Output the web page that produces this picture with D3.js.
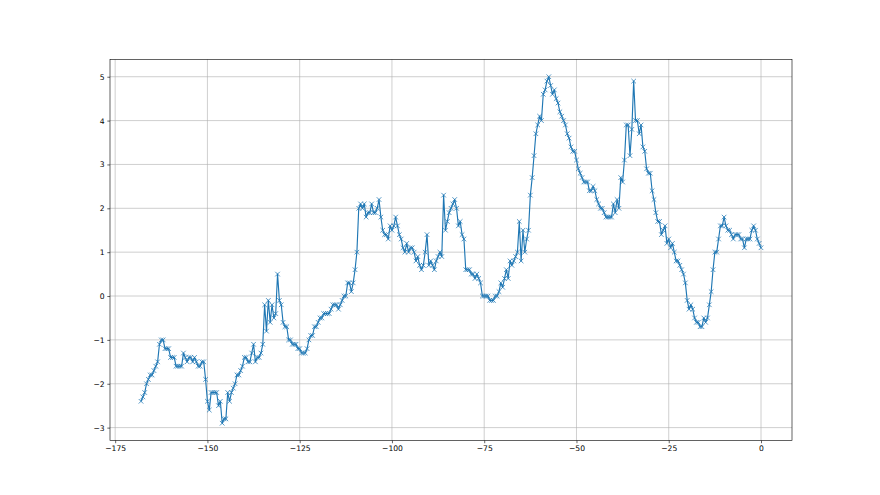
<!DOCTYPE html>
<html>
<head>
<meta charset="utf-8">
<script src="https://cdn.jsdelivr.net/npm/d3@7"></script>
<style>
  body { margin: 0; background: #fff; }
  svg { display: block; }
  .tick text { font-family: "DejaVu Sans", sans-serif; font-size: 7.6px; fill: #000; }
</style>
</head>
<body>
<div id="chart"></div>
<script>
var xValues = [
  -168, -167.5, -167, -166.5, -166, -165.5, -165, -164.5, -164, -163.5,
  -163, -162.5, -162, -161.5, -161, -160.5, -160, -159.5, -159, -158.5,
  -158, -157.5, -157, -156.5, -156, -155.5, -155, -154.5, -154, -153.5,
  -153, -152.5, -152, -151.5, -151, -150.5, -150, -149.5, -149, -148.5,
  -148, -147.5, -147, -146.5, -146, -145.5, -145, -144.5, -144, -143.5,
  -143, -142.5, -142, -141.5, -141, -140.5, -140, -139.5, -139, -138.5,
  -138, -137.5, -137, -136.5, -136, -135.5, -135, -134.5, -134, -133.5,
  -133, -132.5, -132, -131.5, -131, -130.5, -130, -129.5, -129, -128.5,
  -128, -127.5, -127, -126.5, -126, -125.5, -125, -124.5, -124, -123.5,
  -123, -122.5, -122, -121.5, -121, -120.5, -120, -119.5, -119, -118.5,
  -118, -117.5, -117, -116.5, -116, -115.5, -115, -114.5, -114, -113.5,
  -113, -112.5, -112, -111.5, -111, -110.5, -110, -109.5, -109, -108.5,
  -108, -107.5, -107, -106.5, -106, -105.5, -105, -104.5, -104, -103.5,
  -103, -102.5, -102, -101.5, -101, -100.5, -100, -99.5, -99, -98.5,
  -98, -97.5, -97, -96.5, -96, -95.5, -95, -94.5, -94, -93.5,
  -93, -92.5, -92, -91.5, -91, -90.5, -90, -89.5, -89, -88.5,
  -88, -87.5, -87, -86.5, -86, -85.5, -85, -84.5, -84, -83.5,
  -83, -82.5, -82, -81.5, -81, -80.5, -80, -79.5, -79, -78.5,
  -78, -77.5, -77, -76.5, -76, -75.5, -75, -74.5, -74, -73.5,
  -73, -72.5, -72, -71.5, -71, -70.5, -70, -69.5, -69, -68.5,
  -68, -67.5, -67, -66.5, -66, -65.5, -65, -64.5, -64, -63.5,
  -63, -62.5, -62, -61.5, -61, -60.5, -60, -59.5, -59, -58.5,
  -58, -57.5, -57, -56.5, -56, -55.5, -55, -54.5, -54, -53.5,
  -53, -52.5, -52, -51.5, -51, -50.5, -50, -49.5, -49, -48.5,
  -48, -47.5, -47, -46.5, -46, -45.5, -45, -44.5, -44, -43.5,
  -43, -42.5, -42, -41.5, -41, -40.5, -40, -39.5, -39, -38.5,
  -38, -37.5, -37, -36.5, -36, -35.5, -35, -34.5, -34, -33.5,
  -33, -32.5, -32, -31.5, -31, -30.5, -30, -29.5, -29, -28.5,
  -28, -27.5, -27, -26.5, -26, -25.5, -25, -24.5, -24, -23.5,
  -23, -22.5, -22, -21.5, -21, -20.5, -20, -19.5, -19, -18.5,
  -18, -17.5, -17, -16.5, -16, -15.5, -15, -14.5, -14, -13.5,
  -13, -12.5, -12, -11.5, -11, -10.5, -10, -9.5, -9, -8.5,
  -8, -7.5, -7, -6.5, -6, -5.5, -5, -4.5, -4, -3.5,
  -3, -2.5, -2, -1.5, -1, -0.5, 0
];

var yValues = [
  -2.4, -2.3, -2.2, -2.0, -1.9, -1.8, -1.8, -1.7, -1.6, -1.5,
  -1.1, -1.0, -1.0, -1.2, -1.2, -1.2, -1.4, -1.4, -1.4, -1.6,
  -1.6, -1.6, -1.6, -1.3, -1.4, -1.5, -1.4, -1.4, -1.5, -1.4,
  -1.5, -1.6, -1.6, -1.5, -1.5, -1.9, -2.4, -2.6, -2.2, -2.2,
  -2.2, -2.2, -2.5, -2.4, -2.9, -2.8, -2.8, -2.2, -2.4, -2.2,
  -2.1, -2.0, -1.8, -1.8, -1.7, -1.6, -1.4, -1.4, -1.5, -1.5,
  -1.3, -1.1, -1.5, -1.4, -1.4, -1.3, -1.1, -0.2, -0.8, -0.1,
  -0.6, -0.2, -0.5, -0.4, 0.5, -0.1, -0.2, -0.6, -0.7, -0.7,
  -1.0, -1.0, -1.1, -1.1, -1.1, -1.2, -1.2, -1.3, -1.3, -1.3,
  -1.2, -1.0, -0.9, -0.9, -0.7, -0.7, -0.6, -0.5, -0.5, -0.4,
  -0.4, -0.4, -0.4, -0.3, -0.2, -0.2, -0.2, -0.3, -0.2, -0.1,
  0.0, 0.0, 0.3, 0.3, 0.1, 0.3, 0.6, 1.0, 2.0, 2.1,
  2.0, 2.1, 1.8, 1.9, 1.9, 2.1, 1.9, 1.9, 2.0, 2.2,
  1.8, 1.5, 1.4, 1.4, 1.3, 1.6, 1.5, 1.6, 1.8, 1.6,
  1.4, 1.3, 1.1, 1.0, 1.2, 1.0, 1.1, 1.1, 1.0, 0.8,
  0.9, 0.7, 0.6, 0.7, 1.0, 1.4, 0.7, 0.8, 0.7, 0.6,
  0.8, 0.9, 1.0, 0.9, 2.3, 1.5, 1.7, 1.9, 2.0, 2.1,
  2.2, 2.0, 1.6, 1.7, 1.4, 1.3, 0.6, 0.6, 0.6, 0.5,
  0.5, 0.4, 0.5, 0.4, 0.3, 0.0, 0.0, 0.0, 0.0, -0.1,
  -0.1, -0.1, 0.0, 0.0, 0.1, 0.3, 0.2, 0.4, 0.6, 0.4,
  0.8, 0.7, 0.8, 0.9, 1.0, 1.7, 0.8, 1.5, 1.0, 1.3,
  1.5, 2.3, 2.7, 3.2, 3.7, 3.9, 4.1, 4.0, 4.6, 4.7,
  4.9, 5.0, 4.8, 4.6, 4.7, 4.5, 4.4, 4.2, 4.1, 4.0,
  3.9, 3.7, 3.6, 3.4, 3.3, 3.3, 3.1, 2.9, 2.8, 2.7,
  2.6, 2.6, 2.6, 2.4, 2.4, 2.5, 2.4, 2.2, 2.1, 2.0,
  2.0, 1.9, 1.8, 1.8, 1.8, 1.8, 2.1, 1.9, 2.2, 2.0,
  2.7, 2.6, 3.1, 3.9, 3.9, 3.2, 3.8, 4.9, 4.0, 4.0,
  3.7, 3.9, 3.4, 3.3, 2.9, 2.8, 2.8, 2.4, 2.2, 1.9,
  1.7, 1.7, 1.4, 1.5, 1.6, 1.2, 1.3, 1.1, 1.2, 1.0,
  0.8, 0.8, 0.7, 0.6, 0.5, 0.3, -0.1, -0.3, -0.2, -0.3,
  -0.5, -0.6, -0.6, -0.7, -0.7, -0.5, -0.6, -0.5, -0.2, 0.1,
  0.6, 1.0, 1.0, 1.3, 1.6, 1.6, 1.8, 1.6, 1.5, 1.5,
  1.4, 1.3, 1.4, 1.4, 1.4, 1.3, 1.3, 1.1, 1.3, 1.3,
  1.3, 1.5, 1.6, 1.5, 1.3, 1.2, 1.1
];

var xTicks = [-175, -150, -125, -100, -75, -50, -25, 0];
var yTicks = [-3, -2, -1, 0, 1, 2, 3, 4, 5];

var width = 880;
var height = 495;
var margin = { top: 59.4, right: 88, bottom: 54.45, left: 110 };
var innerW = width - margin.left - margin.right;
var innerH = height - margin.top - margin.bottom;
var pt = 55 / 72;
var color = '#1f77b4';

var data = xValues.map(function (x, i) { return { x: x, y: yValues[i] }; });

var svg = d3.select('#chart')
  .append('svg')
    .attr('width', width)
    .attr('height', height);

var chart = svg.append('g')
  .attr('transform', 'translate(' + margin.left + ',' + margin.top + ')');

var xExt = d3.extent(xValues);
var yExt = d3.extent(yValues);
var xPad = (xExt[1] - xExt[0]) * 0.05;
var yPad = (yExt[1] - yExt[0]) * 0.05;

var xScale = d3.scaleLinear()
  .domain([xExt[0] - xPad, xExt[1] + xPad])
  .range([0, innerW]);

var yScale = d3.scaleLinear()
  .domain([yExt[0] - yPad, yExt[1] + yPad])
  .range([innerH, 0]);

var fmt = function (d) { return d < 0 ? '\u2212' + Math.abs(d) : String(d); };

// grid
chart.append('g')
  .selectAll('line')
  .data(xTicks)
  .enter()
  .append('line')
    .attr('x1', function (d) { return xScale(d); })
    .attr('x2', function (d) { return xScale(d); })
    .attr('y1', 0)
    .attr('y2', innerH)
    .attr('stroke', '#b0b0b0')
    .attr('stroke-width', 0.8 * pt);

chart.append('g')
  .selectAll('line')
  .data(yTicks)
  .enter()
  .append('line')
    .attr('x1', 0)
    .attr('x2', innerW)
    .attr('y1', function (d) { return yScale(d); })
    .attr('y2', function (d) { return yScale(d); })
    .attr('stroke', '#b0b0b0')
    .attr('stroke-width', 0.8 * pt);

// line
var line = d3.line()
  .x(function (d) { return xScale(d.x); })
  .y(function (d) { return yScale(d.y); });

chart.append('path')
  .datum(data)
  .attr('fill', 'none')
  .attr('stroke', color)
  .attr('stroke-width', 1.5 * pt)
  .attr('stroke-linejoin', 'round')
  .attr('d', line);

// x markers
var m = 6 * pt / 2;
chart.append('g')
  .selectAll('path')
  .data(data)
  .enter()
  .append('path')
    .attr('transform', function (d) { return 'translate(' + xScale(d.x) + ',' + yScale(d.y) + ')'; })
    .attr('d', 'M' + (-m) + ',' + (-m) + 'L' + m + ',' + m + 'M' + (-m) + ',' + m + 'L' + m + ',' + (-m))
    .attr('fill', 'none')
    .attr('stroke', color)
    .attr('stroke-width', 1 * pt);

// axes
var xAxis = chart.append('g')
  .attr('transform', 'translate(0,' + innerH + ')')
  .call(d3.axisBottom(xScale).tickValues(xTicks).tickFormat(fmt)
    .tickSize(3.5 * pt).tickPadding(3.5 * pt).tickSizeOuter(0));

var yAxis = chart.append('g')
  .call(d3.axisLeft(yScale).tickValues(yTicks).tickFormat(fmt)
    .tickSize(3.5 * pt).tickPadding(3.5 * pt).tickSizeOuter(0));

[xAxis, yAxis].forEach(function (a) {
  a.select('.domain').remove();
  a.selectAll('.tick line').attr('stroke', '#000').attr('stroke-width', 0.8 * pt);
});

// spines
chart.append('rect')
  .attr('x', 0)
  .attr('y', 0)
  .attr('width', innerW)
  .attr('height', innerH)
  .attr('fill', 'none')
  .attr('stroke', '#000')
  .attr('stroke-width', 0.8 * pt);
</script>
</body>
</html>
